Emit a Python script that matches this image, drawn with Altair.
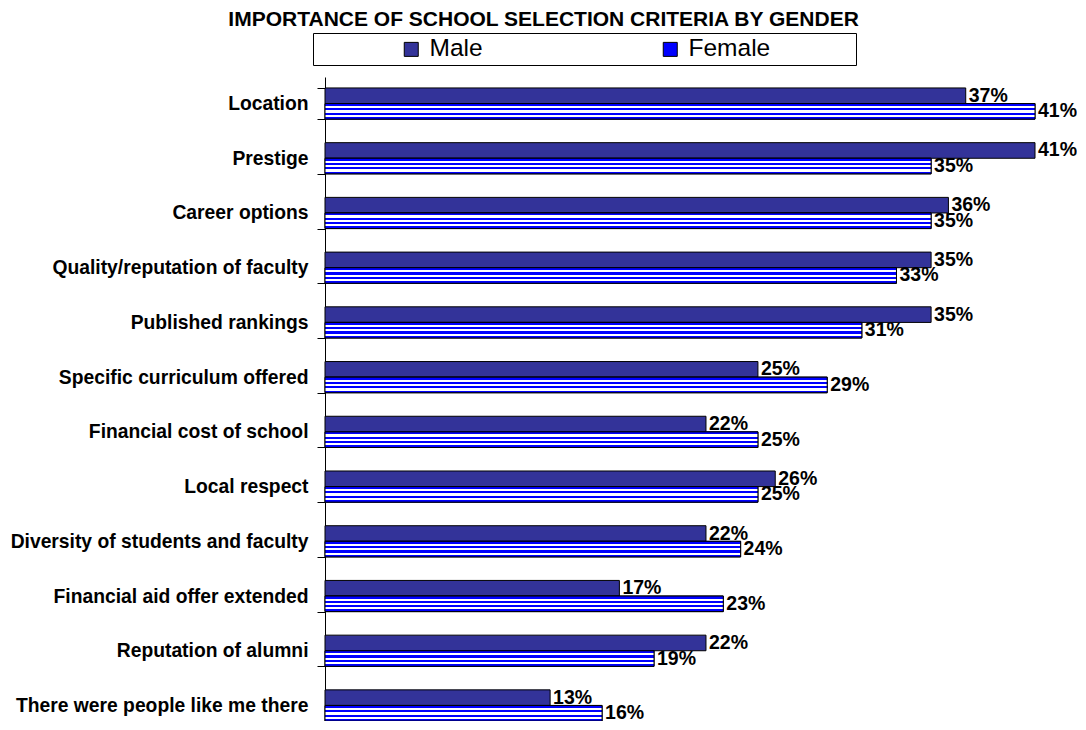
import altair as alt
import pandas as pd

categories = [
    "Location", "Prestige", "Career options", "Quality/reputation of faculty",
    "Published rankings", "Specific curriculum offered", "Financial cost of school",
    "Local respect", "Diversity of students and faculty", "Financial aid offer extended",
    "Reputation of alumni", "There were people like me there",
]
male = [37, 41, 36, 35, 35, 25, 22, 26, 22, 17, 22, 13]
female = [41, 35, 35, 33, 31, 29, 25, 25, 24, 23, 19, 16]
genders = ["Male", "Female"]

rows = []
for c, m, f in zip(categories, male, female):
    rows.append({"criterion": c, "gender": "Male", "value": m})
    rows.append({"criterion": c, "gender": "Female", "value": f})
df = pd.DataFrame(rows)
df["label"] = df["value"].astype(str) + "%"

FONT = "Liberation Sans"

blue = "#0000FF"
white = "#FFFFFF"
stops = []
bands = [(0.0, 0.16, blue), (0.16, 0.30, white), (0.30, 0.44, blue), (0.44, 0.58, white),
         (0.58, 0.72, blue), (0.72, 0.86, white), (0.86, 1.0, blue)]
for a, b, col in bands:
    stops.append({"offset": a, "color": col})
    stops.append({"offset": b, "color": col})
stripe = {"gradient": "linear", "x1": 0, "y1": 0, "x2": 0, "y2": 1, "stops": stops}

pad_chars = "\u2800\u00a0\u00a0\u00a0\u00a0\u2800\u2800"

y_enc = alt.Y(
    "criterion:N", sort=categories, title=None,
    scale=alt.Scale(paddingInner=0.43, paddingOuter=0.2, range=[0, 655]),
    axis=alt.Axis(
        labelFont=FONT, labelFontSize=19.3, labelFontWeight="bold", labelColor="black",
        labelPadding=9, tickSize=8, tickColor="black", domainColor="black",
        tickBand="extent", labelLimit=400,
    ),
)
x_enc = alt.X("value:Q", scale=alt.Scale(domain=[0, 41], nice=False), axis=None)
yoff = alt.YOffset("gender:N", sort=genders, scale=alt.Scale(domain=genders))

bars = alt.Chart(df).mark_bar(stroke="black", strokeWidth=1).encode(
    y=y_enc, x=x_enc, yOffset=yoff,
    color=alt.Color(
        "gender:N", sort=genders,
        scale=alt.Scale(domain=genders, range=["#333399", "#0000FF"]),
        legend=alt.Legend(
            title="\u00a0", titleOrient="left", titlePadding=82, titleFontSize=10,
            orient="none", legendX=-12, legendY=-44, direction="horizontal",
            symbolType="square", symbolSize=196, symbolStrokeColor="black",
            symbolStrokeWidth=1, symbolOpacity=1,
            labelFont=FONT, labelFontSize=24.5, labelColor="black", labelOffset=6,
            labelLimit=500, columnPadding=175, padding=4,
            strokeColor="black", fillColor="white",
            labelExpr="datum.label == 'Female' ? datum.label + '" + pad_chars + "' : datum.label",
        ),
    ),
)

fem = alt.Chart(df).transform_filter(alt.datum.gender == "Female").mark_bar(
    stroke="black", strokeWidth=1, fill=stripe
).encode(y=alt.Y("criterion:N", sort=categories), x="value:Q", yOffset=yoff)

labels = alt.Chart(df).mark_text(
    align="left", baseline="middle", dx=3, font=FONT, fontSize=19.5,
    fontWeight="bold", color="black",
).encode(y=alt.Y("criterion:N", sort=categories), x="value:Q", yOffset=yoff, text="label:N")

chart = alt.layer(bars, fem, labels).properties(
    width=710, height=644,
    autosize=alt.AutoSizeParams(type="none"),
    title=alt.TitleParams(
        "IMPORTANCE OF SCHOOL SELECTION CRITERIA BY GENDER", font=FONT, fontSize=21,
        fontWeight="bold", color="black", anchor="middle", frame="bounds", offset=3,
    ),
    padding={"left": 317, "right": 42, "top": 69, "bottom": 0},
).configure(background="white", view={"stroke": "transparent", "strokeWidth": 0})

chart.save("out.html", embed_options={"renderer": "svg", "actions": False})
